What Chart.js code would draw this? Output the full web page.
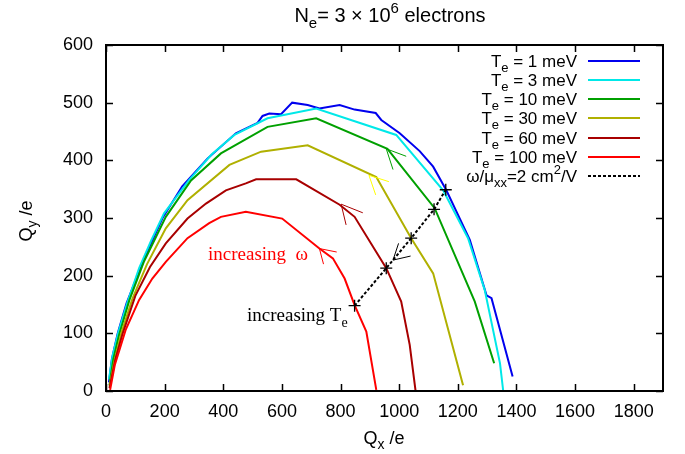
<!DOCTYPE html>
<html>
<head>
<meta charset="utf-8">
<script src="https://cdn.jsdelivr.net/npm/chart.js@4"></script>
<style>
  html, body { margin: 0; padding: 0; background: #fff; }
  #wrap { width: 685px; height: 454px; position: relative; }
</style>
</head>
<body>
<div id="wrap"><canvas id="chart"></canvas></div>
<script>
// Q_x / Q_y traces, one pair of arrays per electron temperature
const QX_1MEV = [10, 20, 40, 70, 107, 150, 193, 260, 346, 443, 517, 534, 557, 597, 635, 688, 728, 797, 848, 920, 939, 1002, 1070, 1116, 1161, 1241, 1298, 1315, 1387];
const QY_1MEV = [15, 55, 100, 152, 200, 252, 300, 355, 403, 447, 465, 477, 481, 480, 500, 496, 490, 496, 488, 482, 470, 447, 416, 389, 348, 262, 166, 161, 25];

const QX_3MEV = [10, 22, 42, 72, 113, 155, 198, 284, 360, 438, 551, 717, 990, 1150, 1235, 1292, 1344, 1355];
const QY_3MEV = [20, 60, 102, 152, 213, 262, 308, 366, 410, 444, 473, 490, 444, 348, 265, 175, 48, 0];

const QX_10MEV = [12, 25, 45, 80, 130, 204, 290, 392, 551, 717, 960, 1121, 1258, 1324];
const QY_10MEV = [10, 55, 98, 158, 225, 302, 365, 412, 458, 473, 420, 317, 155, 48];

const QX_30MEV = [12, 28, 52, 90, 140, 204, 278, 421, 529, 688, 922, 1041, 1116, 1218];
const QY_30MEV = [8, 50, 100, 160, 220, 282, 331, 392, 415, 426, 371, 265, 204, 10];

const QX_60MEV = [12, 32, 57, 100, 150, 204, 278, 341, 409, 477, 512, 649, 797, 848, 956, 1007, 1036, 1056];
const QY_60MEV = [5, 55, 100, 165, 215, 256, 299, 325, 348, 360, 367, 367, 323, 302, 213, 155, 80, 0];

const QX_100MEV = [14, 30, 67, 113, 158, 204, 278, 352, 392, 477, 601, 728, 774, 814, 848, 888, 922];
const QY_100MEV = [2, 45, 106, 158, 195, 224, 265, 291, 302, 311, 299, 247, 230, 195, 149, 103, 2];

// points where omega/mu_xx = 2 cm^2/V
const QX_MOBILITY = [848, 956, 1041, 1119, 1159];
const QY_MOBILITY = [148, 213, 265, 315, 349];

// arrow heads (end, tip, end) showing direction of increasing omega / Te
const ARROW_100_X = [787, 728, 742];
const ARROW_100_Y = [241, 247, 220];
const ARROW_60_X = [876, 802, 819];
const ARROW_60_Y = [309, 324, 288];
const ARROW_30_X = [965, 897, 920];
const ARROW_30_Y = [363, 374, 340];
const ARROW_10_X = [1024, 956, 979];
const ARROW_10_Y = [407, 420, 384];
const ARROW_TE_X = [1039, 979, 998];
const ARROW_TE_Y = [234, 227, 256];

const TE_VALUES = ['1', '3', '10', '30', '60', '100'];
const COLORS = ['#0000ee', '#00e8e8', '#00a000', '#b0b000', '#a80000', '#ff0000'];

const XTICKS = [0, 200, 400, 600, 800, 1000, 1200, 1400, 1600, 1800];
const YTICKS = [0, 100, 200, 300, 400, 500, 600];

const SANS = '"Liberation Sans", Arial, sans-serif';
const SERIF = '"Liberation Serif", "Times New Roman", serif';

function toPoints(xs, ys) {
    return xs.map((x, i) => ({ x: x, y: ys[i] }));
}

const curves = [
    [QX_1MEV, QY_1MEV], [QX_3MEV, QY_3MEV], [QX_10MEV, QY_10MEV],
    [QX_30MEV, QY_30MEV], [QX_60MEV, QY_60MEV], [QX_100MEV, QY_100MEV]
];

const datasets = curves.map((c, i) => ({
    label: 'Te = ' + TE_VALUES[i] + ' meV',
    data: toPoints(c[0], c[1]),
    borderColor: COLORS[i],
    borderWidth: 2,
    pointRadius: 0,
    showLine: true,
    order: 10 - i
}));

const arrows = [
    [ARROW_100_X, ARROW_100_Y, '#ff0000'],
    [ARROW_60_X, ARROW_60_Y, '#a80000'],
    [ARROW_30_X, ARROW_30_Y, '#ffff00'],
    [ARROW_10_X, ARROW_10_Y, '#00a000'],
    [ARROW_TE_X, ARROW_TE_Y, '#000000']
];
arrows.forEach(a => {
    datasets.push({
        label: 'arrow',
        data: toPoints(a[0], a[1]),
        borderColor: a[2],
        borderWidth: 1,
        pointRadius: 0,
        showLine: true,
        order: 2
    });
});

datasets.push({
    label: 'mobility',
    data: toPoints(QX_MOBILITY, QY_MOBILITY),
    borderColor: '#000',
    borderWidth: 2,
    borderDash: [3, 2],
    pointStyle: 'cross',
    pointRadius: 6,
    pointBorderWidth: 1.3,
    pointBorderColor: '#000',
    showLine: true,
    order: 0
});

// draw a string made of normal / subscript / superscript pieces
function drawRich(ctx, parts, x, y, align, size, family, color) {
    const small = Math.round(size * 0.75);
    let total = 0;
    parts.forEach(p => {
        ctx.font = ((p.sub || p.sup) ? small : size) + 'px ' + family;
        p.w = ctx.measureText(p.t).width;
        total += p.w;
    });
    let cx = align === 'right' ? x - total : align === 'center' ? x - total / 2 : x;
    ctx.fillStyle = color;
    ctx.textAlign = 'left';
    ctx.textBaseline = 'alphabetic';
    parts.forEach(p => {
        ctx.font = ((p.sub || p.sup) ? small : size) + 'px ' + family;
        const dy = p.sub ? size * 0.3 : p.sup ? -size * 0.45 : 0;
        ctx.fillText(p.t, cx, y + dy);
        cx += p.w;
    });
    return total;
}

const decorations = {
    id: 'decorations',
    afterDraw(chart) {
        const ctx = chart.ctx;
        const area = chart.chartArea;
        const xs = chart.scales.x, ys = chart.scales.y;
        ctx.save();

        // inward ticks on all four sides
        ctx.strokeStyle = '#000';
        ctx.lineWidth = 1.5;
        const tl = 7;
        ctx.beginPath();
        XTICKS.forEach(v => {
            const px = Math.round(xs.getPixelForValue(v)) + 0.5;
            ctx.moveTo(px, area.bottom); ctx.lineTo(px, area.bottom - tl);
            ctx.moveTo(px, area.top); ctx.lineTo(px, area.top + tl);
        });
        YTICKS.forEach(v => {
            const py = Math.round(ys.getPixelForValue(v)) + 0.5;
            ctx.moveTo(area.left, py); ctx.lineTo(area.left + tl, py);
            ctx.moveTo(area.right, py); ctx.lineTo(area.right - tl, py);
        });
        ctx.stroke();

        // frame
        ctx.lineWidth = 2;
        ctx.strokeRect(area.left, area.top, area.right - area.left, area.bottom - area.top);

        // title
        drawRich(ctx, [{ t: 'N' }, { t: 'e', sub: true }, { t: '= 3 \u00d7 10' }, { t: '6', sup: true }, { t: ' electrons' }],
            390, 22, 'center', 20, SANS, '#000');

        // axis titles
        drawRich(ctx, [{ t: 'Q' }, { t: 'x', sub: true }, { t: ' /e' }], 384, 444, 'center', 18, SANS, '#000');
        ctx.save();
        ctx.translate(32, 221);
        ctx.rotate(-Math.PI / 2);
        drawRich(ctx, [{ t: 'Q' }, { t: 'y', sub: true }, { t: ' /e' }], 0, 0, 'center', 18, SANS, '#000');
        ctx.restore();

        // legend
        const rowY = [61, 80, 99, 118, 138, 157, 176];
        TE_VALUES.forEach((v, i) => {
            drawRich(ctx, [{ t: 'T' }, { t: 'e', sub: true }, { t: ' = ' + v + ' meV' }], 577, rowY[i] + 6, 'right', 17, SANS, '#000');
            ctx.strokeStyle = COLORS[i];
            ctx.lineWidth = 2;
            ctx.setLineDash([]);
            ctx.beginPath();
            ctx.moveTo(588, rowY[i]); ctx.lineTo(640, rowY[i]);
            ctx.stroke();
        });
        drawRich(ctx, [{ t: '\u03c9/\u03bc' }, { t: 'xx', sub: true }, { t: '=2 cm' }, { t: '2', sup: true }, { t: '/V' }],
            577, rowY[6] + 6, 'right', 17, SANS, '#000');
        ctx.strokeStyle = '#000';
        ctx.setLineDash([3, 2]);
        ctx.beginPath();
        ctx.moveTo(588, rowY[6]); ctx.lineTo(640, rowY[6]);
        ctx.stroke();
        ctx.setLineDash([]);

        // annotations
        drawRich(ctx, [{ t: 'increasing  \u03c9' }], 208, 260, 'left', 19, SERIF, '#ff0000');
        drawRich(ctx, [{ t: 'increasing T' }, { t: 'e', sub: true }], 247, 321, 'left', 19, SERIF, '#000');

        ctx.restore();
    }
};

new Chart(document.getElementById('chart'), {
    type: 'scatter',
    data: { datasets: datasets },
    options: {
        responsive: true,
        maintainAspectRatio: false,
        animation: false,
        layout: { padding: { top: 45, right: 22, left: 0, bottom: 0 } },
        plugins: {
            legend: { display: false },
            tooltip: { enabled: false }
        },
        scales: {
            x: {
                type: 'linear',
                min: 0,
                max: 1900,
                afterBuildTicks: scale => { scale.ticks = XTICKS.map(v => ({ value: v })); },
                afterFit: scale => { scale.height = 63; },
                grid: { display: false, drawTicks: false },
                border: { display: false },
                ticks: { padding: 10, color: '#000', font: { family: SANS, size: 18 }, maxRotation: 0,
                         callback: v => String(v) }
            },
            y: {
                type: 'linear',
                min: 0,
                max: 600,
                afterBuildTicks: scale => { scale.ticks = YTICKS.map(v => ({ value: v })); },
                afterFit: scale => { scale.width = 106; },
                grid: { display: false, drawTicks: false },
                border: { display: false },
                ticks: { padding: 13, color: '#000', font: { family: SANS, size: 18 },
                         callback: v => String(v) }
            }
        }
    },
    plugins: [decorations]
});
</script>
</body>
</html>
